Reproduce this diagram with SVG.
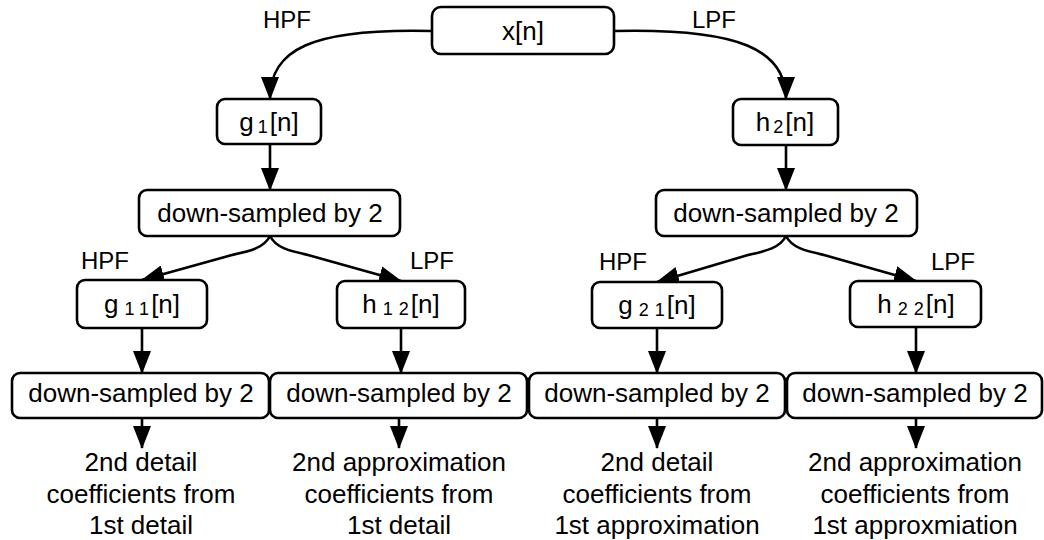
<svg xmlns="http://www.w3.org/2000/svg" width="1044" height="540" viewBox="0 0 1044 540">
  <style>
    .box { fill: #ffffff; stroke: #000000; stroke-width: 2.6; }
    .lbl { font-family: "Liberation Sans", Arial, sans-serif; font-size: 26px; fill: #000000; text-anchor: middle; }
    .sub { font-size: 18px; }
    .flt { font-family: "Liberation Sans", Arial, sans-serif; font-size: 24px; fill: #000000; text-anchor: middle; }
    .edge { fill: none; stroke: #000000; stroke-width: 2.6; marker-end: url(#arrow); }
  </style>
  <defs>
    <marker id="arrow" markerUnits="userSpaceOnUse" markerWidth="23" markerHeight="18" viewBox="0 0 23 18" refX="22" refY="9" orient="auto">
      <path d="M0,0 L23,9 L0,18 Z" fill="#000000"/>
    </marker>
  </defs>

  <rect width="1044" height="540" fill="#ffffff"/>

  <!-- connectors -->
  <g id="connectors">
    <path class="edge" d="M432,31 C310,28 270,50 270,99"/>
    <path class="edge" d="M614,31 C740,28 786,50 786,99"/>
    <path class="edge" d="M270,144 L270,190"/>
    <path class="edge" d="M786,145 L786,190"/>
    <path class="edge" d="M270,236 C264,248 250,251 232,255 L142,280"/>
    <path class="edge" d="M270,236 C276,248 290,251 308,255 L401,281"/>
    <path class="edge" d="M786,236 C780,248 766,251 748,255 L657,282"/>
    <path class="edge" d="M786,236 C792,248 806,251 824,255 L916,281"/>
    <path class="edge" d="M142,328 L142,373"/>
    <path class="edge" d="M401,328 L401,373"/>
    <path class="edge" d="M657,328 L657,373"/>
    <path class="edge" d="M916,327 L916,373"/>
    <path class="edge" d="M142,418 L142,448"/>
    <path class="edge" d="M399,418 L399,448"/>
    <path class="edge" d="M657,418 L657,448"/>
    <path class="edge" d="M916,418 L916,448"/>
  </g>

  <!-- filter labels -->
  <g id="filter-labels">
    <text class="flt" x="287" y="28">HPF</text>
    <text class="flt" x="714" y="28">LPF</text>
    <text class="flt" x="105" y="269">HPF</text>
    <text class="flt" x="432" y="269">LPF</text>
    <text class="flt" x="623" y="270">HPF</text>
    <text class="flt" x="953" y="270">LPF</text>
  </g>

  <g id="x">
    <rect class="box" x="432" y="7" width="182" height="47" rx="9"/>
    <text class="lbl" x="523" y="40">x[n]</text>
  </g>

  <g id="g1">
    <rect class="box" x="217" y="99" width="104" height="45" rx="8"/>
    <text class="lbl" x="269" y="131">g<tspan class="sub" dx="4" dy="2">1</tspan><tspan dx="2" dy="-2">[n]</tspan></text>
  </g>

  <g id="h2">
    <rect class="box" x="733" y="99" width="105" height="46" rx="8"/>
    <text class="lbl" x="785" y="131">h<tspan class="sub" dx="3" dy="2">2</tspan><tspan dx="2" dy="-2">[n]</tspan></text>
  </g>

  <g id="ds1">
    <rect class="box" x="139" y="190" width="261" height="46" rx="8"/>
    <text class="lbl" x="270" y="222">down-sampled by 2</text>
  </g>

  <g id="ds2">
    <rect class="box" x="656" y="190" width="261" height="46" rx="8"/>
    <text class="lbl" x="786" y="222">down-sampled by 2</text>
  </g>

  <g id="g11">
    <rect class="box" x="77" y="280" width="130" height="48" rx="8"/>
    <text class="lbl" x="142" y="313">g<tspan class="sub" dx="6" dy="2">1</tspan><tspan class="sub" dx="6">1</tspan><tspan dx="2" dy="-2">[n]</tspan></text>
  </g>

  <g id="h12">
    <rect class="box" x="337" y="281" width="128" height="47" rx="8"/>
    <text class="lbl" x="401" y="313">h<tspan class="sub" dx="6" dy="2">1</tspan><tspan class="sub" dx="6">2</tspan><tspan dx="2" dy="-2">[n]</tspan></text>
  </g>

  <g id="g21">
    <rect class="box" x="592" y="282" width="130" height="46" rx="8"/>
    <text class="lbl" x="657" y="314">g<tspan class="sub" dx="6" dy="2">2</tspan><tspan class="sub" dx="6">1</tspan><tspan dx="2" dy="-2">[n]</tspan></text>
  </g>

  <g id="h22">
    <rect class="box" x="850" y="281" width="131" height="46" rx="8"/>
    <text class="lbl" x="916" y="313">h<tspan class="sub" dx="6" dy="2">2</tspan><tspan class="sub" dx="6">2</tspan><tspan dx="2" dy="-2">[n]</tspan></text>
  </g>

  <g id="ds11">
    <rect class="box" x="12" y="373" width="257" height="45" rx="8"/>
    <text class="lbl" x="141" y="402">down-sampled by 2</text>
  </g>

  <g id="ds12">
    <rect class="box" x="270" y="373" width="257" height="45" rx="8"/>
    <text class="lbl" x="399" y="402">down-sampled by 2</text>
  </g>

  <g id="ds21">
    <rect class="box" x="529" y="373" width="256" height="45" rx="8"/>
    <text class="lbl" x="657" y="402">down-sampled by 2</text>
  </g>

  <g id="ds22">
    <rect class="box" x="787" y="373" width="255" height="45" rx="8"/>
    <text class="lbl" x="915" y="402">down-sampled by 2</text>
  </g>

  <g id="out11">
    <text class="lbl" x="141" y="471">2nd detail</text>
    <text class="lbl" x="141" y="503">coefficients from</text>
    <text class="lbl" x="141" y="534">1st detail</text>
  </g>

  <g id="out12">
    <text class="lbl" x="399" y="471">2nd approximation</text>
    <text class="lbl" x="399" y="503">coefficients from</text>
    <text class="lbl" x="399" y="534">1st detail</text>
  </g>

  <g id="out21">
    <text class="lbl" x="657" y="471">2nd detail</text>
    <text class="lbl" x="657" y="503">coefficients from</text>
    <text class="lbl" x="657" y="534">1st approximation</text>
  </g>

  <g id="out22">
    <text class="lbl" x="915" y="471">2nd approximation</text>
    <text class="lbl" x="915" y="503">coefficients from</text>
    <text class="lbl" x="915" y="534">1st approxmiation</text>
  </g>
</svg>
